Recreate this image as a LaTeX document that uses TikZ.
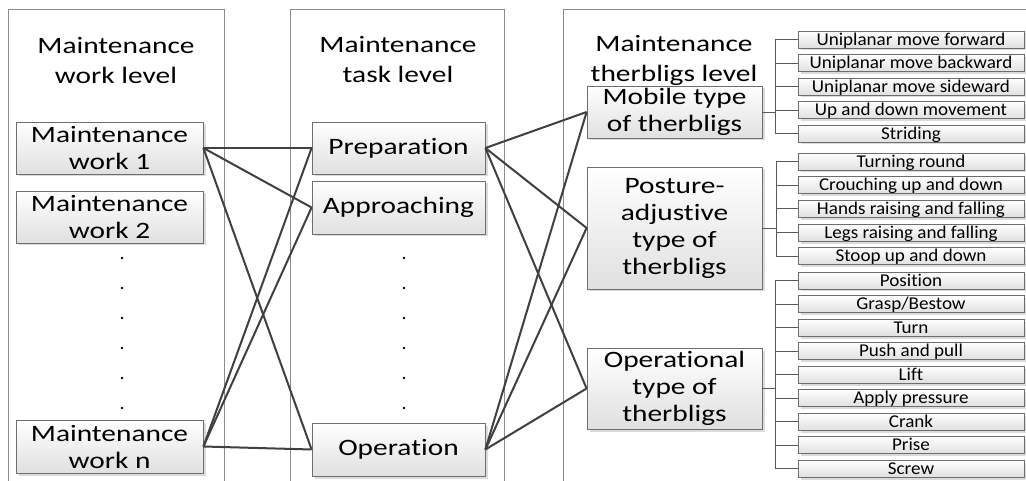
\documentclass[tikz,border=0pt]{standalone}
\usepackage{fontspec}
\setmainfont{Carlito}[Ligatures=NoCommon]
\newfontfamily\bigfont{Carlito}[FakeStretch=1.25, Ligatures=NoCommon]
\newfontfamily\smallfont{Carlito}[FakeStretch=1.06, Ligatures=NoCommon]
\usetikzlibrary{shadows}

\definecolor{panelline}{HTML}{8C8C8C}
\definecolor{boxedge}{HTML}{6E6E6E}
\definecolor{linkcol}{HTML}{404040}
\definecolor{boxbottom}{HTML}{E0E0E0}
\definecolor{bracketcol}{HTML}{5A5A5A}

\tikzset{
  panel/.style={draw=panelline, line width=0.9pt},
  card/.style={draw=boxedge, line width=0.8pt, top color=white, bottom color=boxbottom,
    drop shadow={shadow xshift=2.5pt, shadow yshift=-2.5pt, fill=gray!35, opacity=0.8},
    inner sep=0pt, align=center},
  bigcard/.style={card, font=\bigfont\fontsize{23.5}{27}\selectfont},
  leveltitle/.style={align=center, inner sep=0pt, font=\bigfont\fontsize{23.5}{30}\selectfont},
  item/.style={card, minimum width=226pt, minimum height=17pt, text height=12.8pt, text depth=1.5pt,
    font=\smallfont\fontsize{18}{19}\selectfont},
  link/.style={draw=linkcol, line width=2pt},
  bracket/.style={draw=bracketcol, line width=0.8pt},
  dotmark/.style={fill=black}
}

\begin{document}
\begin{tikzpicture}[x=1pt, y=-1pt]
  \useasboundingbox (0,0) rectangle (1026,481);
  \fill[white] (0,0) rectangle (1026,481);
  \clip (0,0) rectangle (1026,481);

  % the three level panels, open at the bottom
  \draw[panel] (8,490) -- (8,9) -- (224,9) -- (224,490);
  \draw[panel] (290,490) -- (290,9) -- (504,9) -- (504,490);
  \draw[panel] (563,490) -- (563,9) -- (1040,9);

  % panel titles
  \node[leveltitle] (t1) at (116,60) {Maintenance\\work level};
  \node[leveltitle] (t2) at (398,60) {Maintenance\\task level};
  \node[leveltitle] (t3) at (674,60) {Maintenance\\therbligs level};

  % work level
  \node[bigcard, minimum width=187pt, minimum height=52pt] (w1) at (109.5,148) {Maintenance\\work 1};
  \node[bigcard, minimum width=187pt, minimum height=52pt] (w2) at (109.5,217) {Maintenance\\work 2};
  \node[bigcard, minimum width=187pt, minimum height=53pt] (wn) at (109.5,446.5) {Maintenance\\work n};

  % task level
  \node[bigcard, minimum width=173pt, minimum height=52pt] (prep) at (398.5,148) {Preparation};
  \node[bigcard, minimum width=173pt, minimum height=53pt] (appr) at (398.5,207.5) {Approaching};
  \node[bigcard, minimum width=173pt, minimum height=53pt] (oper) at (398.5,449.5) {Operation};

  % elision dots
  \foreach \k in {0,...,5} {
    \fill[dotmark] (122,{258+30*\k}) circle (1.4pt);
    \fill[dotmark] (404,{258+30*\k}) circle (1.4pt);
  }

  % therblig level
  \node[bigcard, minimum width=175pt, minimum height=52pt] (mob) at (674.5,112) {Mobile type\\of therbligs};
  \node[bigcard, minimum width=175pt, minimum height=122pt] (post) at (674.5,228) {Posture-\\adjustive\\type of\\therbligs};
  \node[bigcard, minimum width=175pt, minimum height=81pt] (opl) at (674.5,388.5) {Operational\\type of\\therbligs};

  % elementary therbligs
  \foreach \t [count=\i from 0] in {Uniplanar move forward, Uniplanar move backward,
      Uniplanar move sideward, Up and down movement, Striding}
    \node[item] (m\i) at (911,{39.5+23.5*\i}) {\t};
  \foreach \t [count=\i from 0] in {Turning round, Crouching up and down,
      Hands raising and falling, Legs raising and falling, Stoop up and down}
    \node[item] (p\i) at (911,{161.5+23.7*\i}) {\t};
  \foreach \t [count=\i from 0] in {Position, Grasp/Bestow, Turn, Push and pull, Lift,
      Apply pressure, Crank, Prise, Screw}
    \node[item] (o\i) at (911,{280.5+23.5*\i}) {\t};

  % tree brackets
  \coordinate (mb) at (775,112);
  \coordinate (pb) at (776,228);
  \coordinate (ob) at (775,388.5);
  \draw[bracket] (mob.east) -- (mb);
  \draw[bracket] (m0.west) -- (m0.west -| mb) -- (m4.west -| mb) -- (m4.west);
  \foreach \i in {1,2,3} \draw[bracket] (m\i.west) -- (m\i.west -| mb);
  \draw[bracket] (post.east) -- (pb);
  \draw[bracket] (p0.west) -- (p0.west -| pb) -- (p4.west -| pb) -- (p4.west);
  \foreach \i in {1,2,3} \draw[bracket] (p\i.west) -- (p\i.west -| pb);
  \draw[bracket] (opl.east) -- (ob);
  \draw[bracket] (o0.west) -- (o0.west -| ob) -- (o8.west -| ob) -- (o8.west);
  \foreach \i in {1,...,7} \draw[bracket] (o\i.west) -- (o\i.west -| ob);

  % work -> task links
  \foreach \a in {w1,wn}
    \foreach \b in {prep,appr,oper}
      \draw[link] (\a.east) -- (\b.west);

  % task -> therblig links
  \foreach \a in {prep,oper}
    \foreach \b in {mob,post,opl}
      \draw[link] (\a.east) -- (\b.west);
\end{tikzpicture}
\end{document}
